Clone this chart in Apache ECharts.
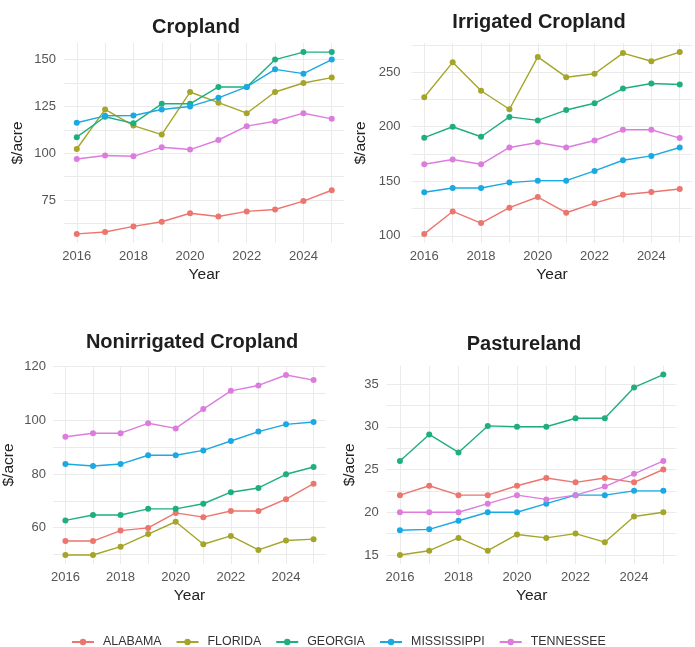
<!DOCTYPE html>
<html>
<head>
<meta charset="utf-8">
<title>Land rent by state</title>
<script src="https://cdn.jsdelivr.net/npm/echarts@6.0.0/dist/echarts.min.js"></script>
<style>
    html, body { margin: 0; padding: 0; background: #fff; }
    #main { width: 695px; height: 647px; }
</style>
</head>
<body>
<div id="main"></div>
<script>
var years = [2016, 2017, 2018, 2019, 2020, 2021, 2022, 2023, 2024, 2025];
var states = ['ALABAMA', 'FLORIDA', 'GEORGIA', 'MISSISSIPPI', 'TENNESSEE'];
var colors = ['#ec766e', '#a5a52a', '#1fae7f', '#1aa9e2', '#dc7ddd'];
var yearLabels = [2016, 2018, 2020, 2022, 2024];

// Cropland
var cropAL = [57, 58, 61, 63.5, 68, 66.3, 69, 70, 74.5, 80.3];
var cropFL = [102.3, 123.4, 114.8, 110, 132.7, 127, 121.4, 132.7, 137.5, 140.4];
var cropGA = [108.6, 119.5, 116, 126.4, 126.4, 135.4, 135.4, 150, 154, 154];
var cropMS = [116.3, 120, 120.2, 123.4, 125, 129.6, 135.4, 144.8, 142.5, 150];
var cropTN = [97, 98.8, 98.4, 103.2, 102, 107.1, 114.5, 117.1, 121.4, 118.4];

// Irrigated Cropland
var irrAL = [101.8, 122.4, 111.7, 125.8, 135.6, 121.2, 130, 137.7, 140.2, 143];
var irrFL = [227, 259, 233, 216, 264, 245.4, 248.5, 267.5, 260, 268.4];
var irrGA = [190, 200, 190.8, 209, 205.8, 215.3, 221.5, 235, 239.6, 238.7];
var irrMS = [140, 143.9, 143.9, 148.8, 150.6, 150.6, 159.5, 169.3, 173.3, 181];
var irrTN = [165.6, 170, 165.6, 181, 185.6, 181, 187.4, 197.2, 197.2, 189.6];

// Nonirrigated Cropland
var nonAL = [55, 55, 58.9, 59.9, 65.5, 63.9, 66.2, 66.2, 70.6, 76.4];
var nonFL = [49.8, 49.8, 52.9, 57.6, 62.2, 53.8, 56.9, 51.7, 55.2, 55.7];
var nonGA = [62.7, 64.7, 64.7, 67, 67, 68.9, 73.2, 74.8, 79.9, 82.6];
var nonMS = [83.7, 83, 83.7, 87, 87, 88.8, 92.3, 95.8, 98.5, 99.4];
var nonTN = [93.9, 95.2, 95.2, 98.9, 97, 104.2, 111, 113, 116.9, 115];

// Pastureland
var pasAL = [22, 23.1, 22, 22, 23.1, 24, 23.5, 24, 23.5, 25];
var pasFL = [15, 15.5, 17, 15.5, 17.4, 17, 17.5, 16.5, 19.5, 20];
var pasGA = [26, 29.1, 27, 30.1, 30, 30, 31, 31, 34.6, 36.1];
var pasMS = [17.9, 18, 19, 20, 20, 21, 22, 22, 22.5, 22.5];
var pasTN = [20, 20, 20, 21, 22, 21.5, 22, 23, 24.5, 26];

// y ticks (labels) and grid lines (major + minor)
var cropTicks = [75, 100, 125, 150];
var cropGrid = [62.5, 75, 87.5, 100, 112.5, 125, 137.5, 150];
var irrTicks = [100, 150, 200, 250];
var irrGrid = [100, 125, 150, 175, 200, 225, 250, 275];
var nonTicks = [60, 80, 100, 120];
var nonGrid = [50, 60, 70, 80, 90, 100, 110, 120];
var pasTicks = [15, 20, 25, 30, 35];
var pasGrid = [15, 17.5, 20, 22.5, 25, 27.5, 30, 32.5, 35];

var panels = [
    { title: 'Cropland', data: [cropAL, cropFL, cropGA, cropMS, cropTN], ticks: cropTicks, grid: cropGrid,
      rect: { left: 64, top: 43, width: 280.5, height: 200 }, titleX: 191, titleY: 12, nameGap: 38, labelMargin: 8 },
    { title: 'Irrigated Cropland', data: [irrAL, irrFL, irrGA, irrMS, irrTN], ticks: irrTicks, grid: irrGrid,
      rect: { left: 411.5, top: 43, width: 281, height: 200 }, titleX: 534, titleY: 7, nameGap: 43, labelMargin: 11 },
    { title: 'Nonirrigated Cropland', data: [nonAL, nonFL, nonGA, nonMS, nonTN], ticks: nonTicks, grid: nonGrid,
      rect: { left: 45.6, top: 366, width: 280.4, height: 198 }, titleX: 187, titleY: 327, nameGap: 36, labelMargin: 7 },
    { title: 'Pastureland', data: [pasAL, pasFL, pasGA, pasMS, pasTN], ticks: pasTicks, grid: pasGrid,
      rect: { left: 386.8, top: 365.6, width: 289.7, height: 198.4 }, titleX: 519, titleY: 329, nameGap: 29, labelMargin: 8 }
];

var font = '"Liberation Sans", Arial, sans-serif';
var gridLine = { show: true, lineStyle: { color: '#ebebeb', width: 1 } };

// ggplot style 5% padding
function padMin(v) { return v.min - (v.max - v.min) * 0.05; }
function padMax(v) { return v.max + (v.max - v.min) * 0.05; }

function buildOption() {
    var option = {
        animation: false,
        backgroundColor: '#fff',
        color: colors,
        textStyle: { fontFamily: font },
        title: [], grid: [], xAxis: [], yAxis: [], series: [],
        legend: {
            left: 66,
            top: 631,
            itemWidth: 22,
            itemHeight: 8,
            itemGap: 14,
            data: states,
            textStyle: { fontSize: 12.4, color: '#333', fontFamily: font, padding: [0, 0, 0, 4] }
        }
    };

    for (var p = 0; p < panels.length; p++) {
        var pn = panels[p];

        option.title.push({
            text: pn.title,
            left: pn.titleX,
            top: pn.titleY,
            textAlign: 'center',
            textStyle: { fontSize: 20, fontWeight: 'bold', color: '#1e1e1e', fontFamily: font }
        });

        option.grid.push(pn.rect);

        option.xAxis.push({
            type: 'value',
            gridIndex: p,
            min: padMin,
            max: padMax,
            name: 'Year',
            nameLocation: 'middle',
            nameGap: 24,
            nameTextStyle: { fontSize: 15.5, color: '#222' },
            axisLine: { show: false },
            axisTick: { show: false, customValues: years },
            axisLabel: {
                customValues: yearLabels, fontSize: 13, color: '#555', margin: 7,
                formatter: function (v) { return String(v); }
            },
            splitLine: gridLine
        });

        option.yAxis.push({
            type: 'value',
            gridIndex: p,
            min: padMin,
            max: padMax,
            name: '$/acre',
            nameLocation: 'middle',
            nameGap: pn.nameGap,
            nameTextStyle: { fontSize: 15.5, color: '#222' },
            axisLine: { show: false },
            axisTick: { show: false, customValues: pn.grid },
            axisLabel: { customValues: pn.ticks, fontSize: 13, color: '#555', margin: pn.labelMargin },
            splitLine: gridLine
        });

        for (var s = 0; s < states.length; s++) {
            var vals = pn.data[s];
            option.series.push({
                name: states[s],
                type: 'line',
                xAxisIndex: p,
                yAxisIndex: p,
                symbol: 'circle',
                symbolSize: 6,
                lineStyle: { width: 1.4 },
                emphasis: { disabled: true },
                data: years.map(function (y, i) { return [y, vals[i]]; })
            });
        }
    }
    return option;
}

var chart = echarts.init(document.getElementById('main'));
chart.setOption(buildOption());
</script>
</body>
</html>
